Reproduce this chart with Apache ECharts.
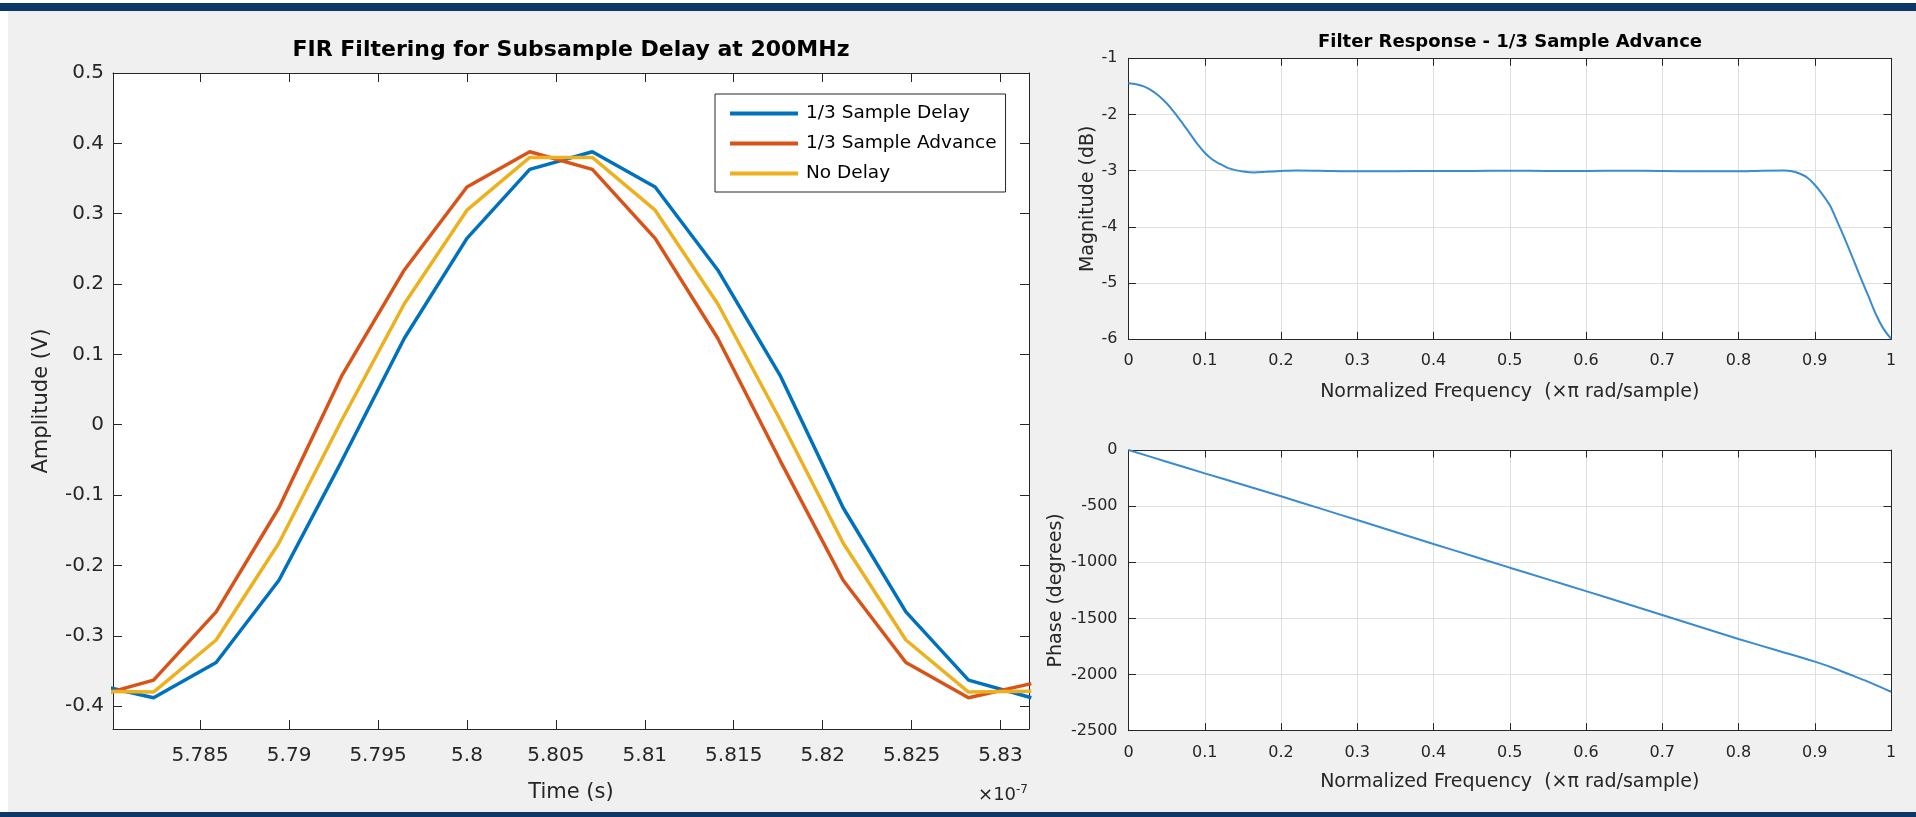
<!DOCTYPE html>
<html>
<head>
<meta charset="utf-8">
<script src="https://cdn.jsdelivr.net/npm/echarts@6/dist/echarts.min.js"></script>
<style>
html, body { margin: 0; padding: 0; background: #f0f0f0; }
#main { width: 1916px; height: 817px; }
</style>
</head>
<body>
<div id="main"></div>
<script>
// sample grid (x1e-7 s) and the three filtered signals
var sampleTimes = [5.77885, 5.78238, 5.7859, 5.78943, 5.79295, 5.79648, 5.8, 5.80353,
                   5.80705, 5.81058, 5.8141, 5.81763, 5.82115, 5.82468, 5.8282, 5.83173];
var delayed  = [-0.368, -0.388, -0.338, -0.221, -0.052, 0.123, 0.265, 0.363,
                0.388, 0.338, 0.220, 0.069, -0.118, -0.266, -0.363, -0.388];
var advanced = [-0.388, -0.363, -0.266, -0.118, 0.069, 0.220, 0.338, 0.388,
                0.363, 0.265, 0.123, -0.052, -0.221, -0.338, -0.388, -0.368];
var noDelay  = [-0.379, -0.380, -0.306, -0.168, 0.006, 0.172, 0.305, 0.380,
                0.380, 0.305, 0.172, 0.006, -0.168, -0.306, -0.380, -0.379];
var timeTicks = [5.785, 5.79, 5.795, 5.8, 5.805, 5.81, 5.815, 5.82, 5.825, 5.83];
var ampTicks = [-0.4, -0.3, -0.2, -0.1, 0, 0.1, 0.2, 0.3, 0.4, 0.5];

// filter response
var magFreq = [0, 0.01, 0.02, 0.03, 0.04, 0.05, 0.06, 0.07, 0.08, 0.09, 0.1, 0.11, 0.12, 0.13,
               0.14, 0.15, 0.165, 0.18, 0.2, 0.22, 0.25, 0.3, 0.35, 0.4, 0.45, 0.5, 0.55, 0.6,
               0.65, 0.7, 0.75, 0.8, 0.83, 0.86, 0.87, 0.88, 0.89, 0.9, 0.91, 0.92, 0.93, 0.94,
               0.95, 0.96, 0.97, 0.98, 0.99, 1];
var magDb = [-1.445, -1.46, -1.5, -1.57, -1.67, -1.8, -1.96, -2.14, -2.33, -2.52, -2.68, -2.8, -2.88, -2.95,
             -2.99, -3.015, -3.03, -3.02, -3.005, -2.995, -3.0, -3.012, -3.01, -3.005, -3.005, -3.0, -3.005, -3.005,
             -3.0, -3.005, -3.01, -3.012, -3.0, -2.997, -3.01, -3.05, -3.12, -3.25, -3.42, -3.62, -3.92, -4.23,
             -4.56, -4.9, -5.22, -5.55, -5.81, -5.99];
var phaseFreq = [0, 0.05, 0.1, 0.15, 0.2, 0.25, 0.3, 0.35, 0.4, 0.45, 0.5, 0.55, 0.6, 0.65,
                 0.7, 0.75, 0.8, 0.85, 0.9, 0.925, 0.95, 0.975, 1];
var phaseDeg = [0, -104, -208, -309, -412, -518, -624, -731, -837, -942, -1048, -1152, -1257, -1363,
                -1470, -1577, -1683, -1784, -1885, -1944, -2010, -2078, -2153];

var FONT = 'DejaVu Sans';
var INK = '#262626';

function trim(v, d) { return String(+v.toFixed(d)); }

function pairs(xs, ys) {
    return xs.map(function (x, i) { return [x, ys[i]]; });
}

// one axis of a MATLAB-style box: ticks inside, optional labels
function boxAxis(opt) {
    var ax = {
        type: 'value',
        gridIndex: opt.grid,
        position: opt.position,
        min: opt.min,
        max: opt.max,
        axisLine: { show: true, onZero: false, lineStyle: { color: INK, width: 1 } },
        axisTick: { show: true, inside: true, length: opt.tickLen, lineStyle: { color: INK } },
        axisLabel: { show: !!opt.labels, margin: opt.margin, fontFamily: FONT, fontSize: opt.fontSize,
                     color: INK, formatter: opt.formatter || function (v) { return String(v); },
                     showMinLabel: true, showMaxLabel: true },
        splitLine: { show: !!opt.grid_lines, lineStyle: { color: '#dfdfdf', width: 1 } }
    };
    if (opt.interval != null) ax.interval = opt.interval;
    if (opt.ticks) {
        ax.axisTick.customValues = opt.ticks;
        ax.axisLabel.customValues = opt.ticks;
    }
    if (opt.name) {
        ax.name = opt.name;
        ax.nameLocation = 'middle';
        ax.nameGap = opt.nameGap;
        ax.nameTextStyle = { fontFamily: FONT, fontSize: opt.nameSize, color: INK };
    }
    return ax;
}

var chart = echarts.init(document.getElementById('main'));

var freqLabel = 'Normalized Frequency  (\u00d7\u03c0 rad/sample)';

var option = {
    backgroundColor: '#f0f0f0',
    animation: false,
    title: [
        { text: 'FIR Filtering for Subsample Delay at 200MHz', left: 571, top: 39, textAlign: 'center', padding: 0,
          textStyle: { fontFamily: FONT, fontSize: 22, fontWeight: 'bold', color: '#000' } },
        { text: 'Filter Response - 1/3 Sample Advance', left: 1510, top: 33, textAlign: 'center', padding: 0,
          textStyle: { fontFamily: FONT, fontSize: 18, fontWeight: 'bold', color: '#000' } }
    ],
    legend: {
        orient: 'vertical',
        left: 715, top: 94,
        backgroundColor: '#fff',
        borderColor: INK, borderWidth: 1,
        padding: [10, 9, 9, 15],
        itemGap: 11,
        itemWidth: 68, itemHeight: 4,
        icon: 'rect',
        textStyle: { fontFamily: FONT, fontSize: 18.5, color: '#000', padding: [0, 0, 0, 3] },
        data: ['1/3 Sample Delay', '1/3 Sample Advance', 'No Delay']
    },
    grid: [
        { left: 113, top: 73, width: 916, height: 656, show: true, backgroundColor: '#fff', borderWidth: 0 },
        { left: 1128.5, top: 58.3, width: 762.5, height: 281, show: true, backgroundColor: '#fff', borderWidth: 0 },
        { left: 1128.5, top: 450, width: 762.5, height: 280.7, show: true, backgroundColor: '#fff', borderWidth: 0 }
    ],
    xAxis: [
        boxAxis({ grid: 0, position: 'bottom', min: 5.7801, max: 5.8316, ticks: timeTicks, tickLen: 9,
                  labels: true, margin: 17, fontSize: 20, formatter: function (v) { return trim(v, 3); },
                  name: 'Time (s)', nameGap: 53, nameSize: 21 }),
        boxAxis({ grid: 0, position: 'top', min: 5.7801, max: 5.8316, ticks: timeTicks, tickLen: 9 }),
        boxAxis({ grid: 1, position: 'bottom', min: 0, max: 1, interval: 0.1, tickLen: 7.5, grid_lines: true,
                  labels: true, margin: 14, fontSize: 16, formatter: function (v) { return trim(v, 1); },
                  name: freqLabel, nameGap: 43, nameSize: 19 }),
        boxAxis({ grid: 1, position: 'top', min: 0, max: 1, interval: 0.1, tickLen: 7.5 }),
        boxAxis({ grid: 2, position: 'bottom', min: 0, max: 1, interval: 0.1, tickLen: 7.5, grid_lines: true,
                  labels: true, margin: 14, fontSize: 16, formatter: function (v) { return trim(v, 1); },
                  name: freqLabel, nameGap: 41.5, nameSize: 19 }),
        boxAxis({ grid: 2, position: 'top', min: 0, max: 1, interval: 0.1, tickLen: 7.5 })
    ],
    yAxis: [
        boxAxis({ grid: 0, position: 'left', min: -0.4325, max: 0.5, ticks: ampTicks, tickLen: 9,
                  labels: true, margin: 9, fontSize: 20, formatter: function (v) { return trim(v, 1); },
                  name: 'Amplitude (V)', nameGap: 61, nameSize: 21 }),
        boxAxis({ grid: 0, position: 'right', min: -0.4325, max: 0.5, ticks: ampTicks, tickLen: 9 }),
        boxAxis({ grid: 1, position: 'left', min: -6, max: -1, interval: 1, tickLen: 7.5, grid_lines: true,
                  labels: true, margin: 11, fontSize: 16,
                  name: 'Magnitude (dB)', nameGap: 28, nameSize: 19 }),
        boxAxis({ grid: 1, position: 'right', min: -6, max: -1, interval: 1, tickLen: 7.5 }),
        boxAxis({ grid: 2, position: 'left', min: -2500, max: 0, interval: 500, tickLen: 7.5, grid_lines: true,
                  labels: true, margin: 11, fontSize: 16,
                  name: 'Phase (degrees)', nameGap: 63, nameSize: 19 }),
        boxAxis({ grid: 2, position: 'right', min: -2500, max: 0, interval: 500, tickLen: 7.5 })
    ],
    series: [
        { name: '1/3 Sample Delay', type: 'line', xAxisIndex: 0, yAxisIndex: 0, symbol: 'none',
          color: '#0072BD', lineStyle: { width: 3.5 }, data: pairs(sampleTimes, delayed) },
        { name: '1/3 Sample Advance', type: 'line', xAxisIndex: 0, yAxisIndex: 0, symbol: 'none',
          color: '#D95319', lineStyle: { width: 3.5 }, data: pairs(sampleTimes, advanced) },
        { name: 'No Delay', type: 'line', xAxisIndex: 0, yAxisIndex: 0, symbol: 'none',
          color: '#EDB120', lineStyle: { width: 3.5 }, data: pairs(sampleTimes, noDelay) },
        { name: 'magnitude', type: 'line', xAxisIndex: 2, yAxisIndex: 2, symbol: 'none', smooth: 0.3,
          color: '#3a8bd0', lineStyle: { width: 2 }, data: pairs(magFreq, magDb) },
        { name: 'phase', type: 'line', xAxisIndex: 4, yAxisIndex: 4, symbol: 'none', smooth: 0.3,
          color: '#3a8bd0', lineStyle: { width: 2 }, data: pairs(phaseFreq, phaseDeg) }
    ],
    graphic: [
        { type: 'rect', shape: { x: 0, y: 0, width: 8, height: 817 }, style: { fill: '#fff' }, silent: true },
        { type: 'rect', shape: { x: 0, y: 0, width: 1916, height: 3 }, style: { fill: '#fff' }, silent: true },
        { type: 'rect', shape: { x: 0, y: 3, width: 1916, height: 8 }, style: { fill: '#0c3766' }, silent: true },
        { type: 'rect', shape: { x: 0, y: 812, width: 1916, height: 5 }, style: { fill: '#0c3766' }, silent: true },
        { type: 'text', x: 1028, y: 806, silent: true,
          style: { text: '{a|\u00d710}{b|-7}', align: 'right', verticalAlign: 'bottom',
                   rich: { a: { fontFamily: FONT, fontSize: 18, fill: INK },
                           b: { fontFamily: FONT, fontSize: 12, fill: INK, verticalAlign: 'top', padding: [0, 0, 10, 0] } } } }
    ]
};

chart.setOption(option);
</script>
</body>
</html>
